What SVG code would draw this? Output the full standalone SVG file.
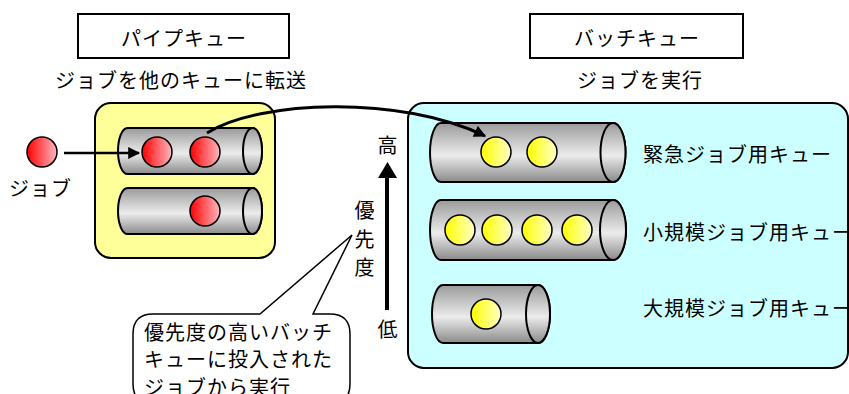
<svg xmlns="http://www.w3.org/2000/svg" width="849" height="394" viewBox="0 0 849 394">
<defs>
<linearGradient id="cyl" x1="0" y1="0" x2="0" y2="1">
<stop offset="0" stop-color="#9a9a9a"/>
<stop offset="0.55" stop-color="#ececec"/>
<stop offset="1" stop-color="#8a8a8a"/>
</linearGradient>
<linearGradient id="red" x1="0" y1="0" x2="1" y2="0">
<stop offset="0" stop-color="#ff0000"/>
<stop offset="1" stop-color="#ffb8c0"/>
</linearGradient>
<linearGradient id="yel" x1="0" y1="0" x2="1" y2="0">
<stop offset="0" stop-color="#ffff00"/>
<stop offset="1" stop-color="#ffffc8"/>
</linearGradient>
<marker id="ah" viewBox="0 0 10 10" refX="9" refY="5" markerWidth="14" markerHeight="12" markerUnits="userSpaceOnUse" orient="auto">
<path d="M0,0 L10,5 L0,10 Z" fill="#000"/>
</marker>
<style>
text{font-family:"Noto Sans CJK JP","Noto Sans CJK SC",sans-serif;font-size:20px;fill:#000;letter-spacing:1px;dominant-baseline:central}
.mid{text-anchor:middle}
.title{fill:#fff;stroke:#000;stroke-width:2}
.cyl{fill:url(#cyl);stroke:#000;stroke-width:2}
.r{fill:url(#red);stroke:#000;stroke-width:1.5}
.y{fill:url(#yel);stroke:#000;stroke-width:1.5}
.conn{fill:none;stroke:#000}
</style>
</defs>

<g id="pipe-title">
<rect class="title" x="78" y="14" width="211" height="44"/>
<text class="mid" x="184" y="37">パイプキュー</text>
</g>
<text class="mid" x="181" y="79">ジョブを他のキューに転送</text>

<g id="batch-title">
<rect class="title" x="530" y="14" width="213" height="44"/>
<text class="mid" x="637" y="37">バッチキュー</text>
</g>
<text class="mid" x="640" y="79">ジョブを実行</text>

<g id="job">
<circle class="r" cx="42" cy="152" r="15"/>
<text x="9" y="187">ジョブ</text>
</g>

<g id="pipe-queue">
<rect x="95" y="103" width="180" height="155" rx="16" fill="#ffff99" stroke="#000" stroke-width="2"/>
<path class="cyl" d="M127.5,128 H252.5 A9.5,23 0 0 1 252.5,174 H127.5 A9.5,23 0 0 1 127.5,128 Z"/>
<ellipse class="cyl" cx="252.5" cy="151" rx="9.5" ry="23"/>
<circle class="r" cx="157" cy="152" r="15"/>
<circle class="r" cx="205" cy="152" r="15"/>
<path class="cyl" d="M127.5,188 H252.5 A9.5,23 0 0 1 252.5,234 H127.5 A9.5,23 0 0 1 127.5,188 Z"/>
<ellipse class="cyl" cx="252.5" cy="211" rx="9.5" ry="23"/>
<circle class="r" cx="205" cy="211" r="15"/>
</g>

<g id="batch-queue">
<rect x="408" y="103" width="440" height="265" rx="16" fill="#ccffff" stroke="#000" stroke-width="2"/>
<path class="cyl" d="M441,123 H613 A12.5,29.5 0 0 1 613,182 H441 A11,29.5 0 0 1 441,123 Z"/>
<ellipse class="cyl" cx="613" cy="152.5" rx="12.5" ry="29.5"/>
<circle class="y" cx="496" cy="152" r="15"/>
<circle class="y" cx="542" cy="152" r="15"/>
<text x="643" y="153">緊急ジョブ用キュー</text>

<path class="cyl" d="M441,200 H613 A13,30 0 0 1 613,260 H441 A11,30 0 0 1 441,200 Z"/>
<ellipse class="cyl" cx="613" cy="230" rx="13" ry="30"/>
<circle class="y" cx="460" cy="230" r="15"/>
<circle class="y" cx="497" cy="230" r="15"/>
<circle class="y" cx="537" cy="230" r="15"/>
<circle class="y" cx="577" cy="230" r="15"/>
<text x="643" y="231">小規模ジョブ用キュー</text>

<path class="cyl" d="M443,285 H538 A12,29 0 0 1 538,343 H443 A11,29 0 0 1 443,285 Z"/>
<ellipse class="cyl" cx="538" cy="314" rx="12" ry="29"/>
<circle class="y" cx="486" cy="314" r="15"/>
<text x="643" y="307">大規模ジョブ用キュー</text>
</g>

<g id="priority">
<text class="mid" x="388" y="144">高</text>
<text class="mid" x="388" y="328">低</text>
<text class="mid" x="365" y="209">優</text>
<text class="mid" x="365" y="238">先</text>
<text class="mid" x="365" y="266">度</text>
</g>

<g id="callout">
<path d="M153,314 H260 L352,235 L313,314 H330 Q350,314 350,334 V384 Q350,404 330,404 H153 Q133,404 133,384 V334 Q133,314 153,314 Z" fill="#fff" stroke="#000" stroke-width="1.5"/>
<text x="144" y="331">優先度の高いバッチ</text>
<text x="144" y="358">キューに投入された</text>
<text x="144" y="386">ジョブから実行</text>
</g>

<g id="connectors">
<path class="conn" d="M64,153 H139" stroke-width="2.5" marker-end="url(#ah)"/>
<path class="conn" d="M207,133 C260,100 400,95 485,136" stroke-width="3" marker-end="url(#ah)"/>
<path class="conn" d="M387,310 V176" stroke-width="4"/>
<polygon points="378,178 397,178 387.5,162" fill="#000"/>
</g>
</svg>
